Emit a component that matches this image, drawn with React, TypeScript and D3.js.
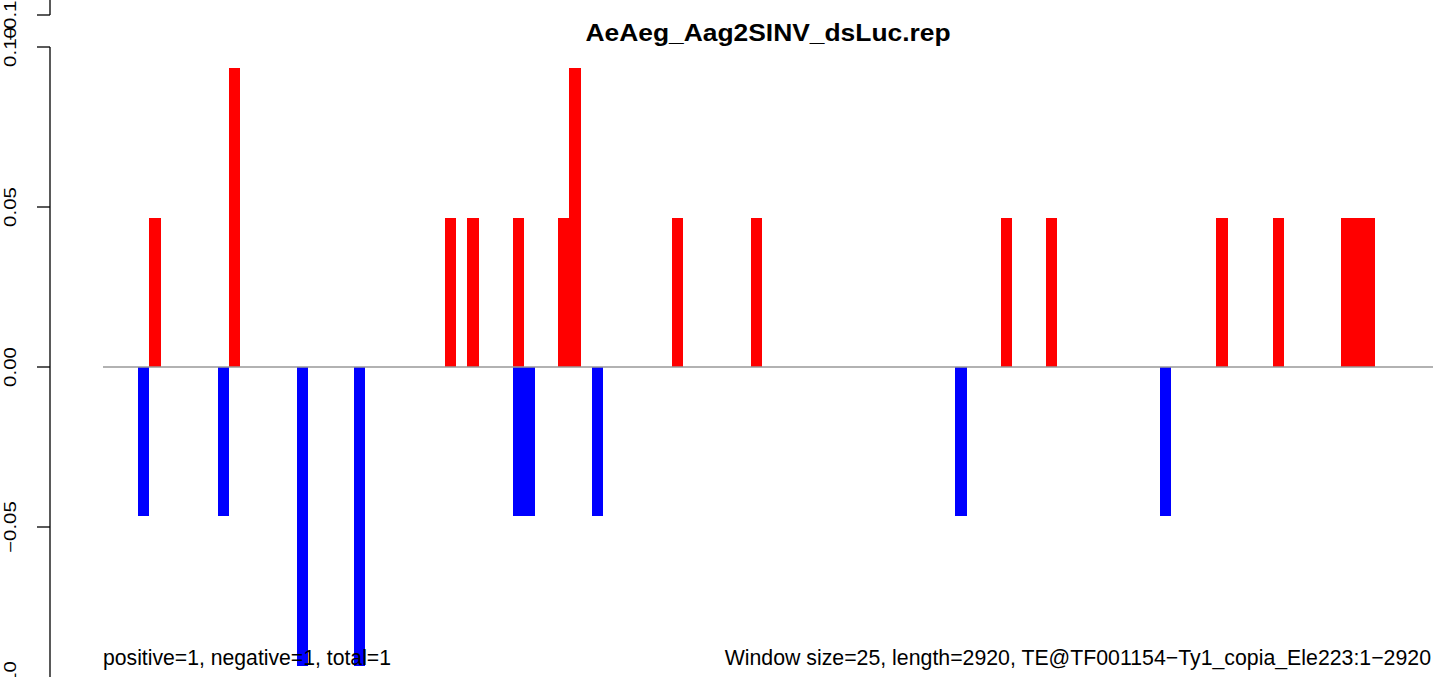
import React from "react";
import * as d3 from "d3";

const WIDTH = 1439;
const HEIGHT = 677;

const TITLE = "AeAeg_Aag2SINV_dsLuc.rep";
const LEFT_NOTE = "positive=1, negative=1, total=1";
const RIGHT_NOTE = "Window size=25, length=2920, TE@TF001154\u2212Ty1_copia_Ele223:1\u22122920";

const TE_LENGTH = 2920;
const WINDOW = 25;

// window index (start = index * WINDOW) for sense (positive) reads
const posWindows = [4, 11, 30, 32, 36, 40, 41, 50, 57, 79, 83, 98, 103, 109, 110, 111];
const posValues = [0.0467, 0.0934, 0.0467, 0.0467, 0.0467, 0.0467, 0.0934, 0.0467, 0.0467, 0.0467, 0.0467, 0.0467, 0.0467, 0.0467, 0.0467, 0.0467];

// antisense (negative) reads
const negWindows = [3, 10, 17, 22, 36, 37, 43, 75, 93];
const negValues = [-0.0467, -0.0467, -0.0934, -0.0934, -0.0467, -0.0467, -0.0467, -0.0467, -0.0467];

const yTicks = [-0.1, -0.05, 0, 0.05, 0.1];
const yTickLabels = ["\u22120.10", "\u22120.05", "0.00", "0.05", "0.10"];

const FONT = "'Liberation Sans', Arial, Helvetica, sans-serif";

export default function App() {
  const plotLeft = 103;
  const plotRight = 1433;
  const axisX = 50;

  const x = d3.scaleLinear().domain([0, TE_LENGTH]).range([104, 104 + (TE_LENGTH / WINDOW) * 11.35]);
  const y = d3.scaleLinear().domain([-0.1, 0.1]).range([687, 47]);
  // previous panel (stacked above) fragment of its axis
  const yPrev = d3.scaleLinear().domain([-0.1, 0.1]).range([687 - 672, 47 - 672]);

  const bw = x(WINDOW) - x(0);

  const pos = posWindows.map((w, i) => ({ w, v: posValues[i] }));
  const neg = negWindows.map((w, i) => ({ w, v: negValues[i] }));

  return (
    <svg
      width={WIDTH}
      height={HEIGHT}
      style={{ position: "absolute", left: 0, top: 0, background: "#fff" }}
      fontFamily={FONT}
    >
      <rect x={0} y={0} width={WIDTH} height={HEIGHT} fill="#fff" />
      {/* bars */}
      <g shapeRendering="crispEdges">
        {pos.map((d, i) => (
          <rect key={"p" + i} x={x(d.w * WINDOW)} width={bw} y={y(d.v)} height={y(0) - y(d.v)} fill="#ff0000" />
        ))}
        {neg.map((d, i) => (
          <rect key={"n" + i} x={x(d.w * WINDOW)} width={bw} y={y(0)} height={y(d.v) - y(0)} fill="#0000ff" />
        ))}
      </g>
      {/* zero line */}
      <line x1={plotLeft} x2={plotRight} y1={y(0)} y2={y(0)} stroke="#999999" strokeWidth={1.5} />

      {/* y axis */}
      <g stroke="#000" strokeWidth={1.3}>
        <line x1={axisX} x2={axisX} y1={y(0.1)} y2={y(-0.1)} />
        {yTicks.map((t) => (
          <line key={"t" + t} x1={axisX - 13} x2={axisX} y1={y(t)} y2={y(t)} />
        ))}
        <line x1={axisX} x2={axisX} y1={yPrev(-0.1)} y2={yPrev(0.1)} />
        {yTicks.map((t) => (
          <line key={"pt" + t} x1={axisX - 13} x2={axisX} y1={yPrev(t)} y2={yPrev(t)} />
        ))}
      </g>
      <g fontSize={16} fill="#000" textAnchor="middle">
        {yTicks.map((t, i) => (
          <text key={"l" + t} transform={`translate(16,${y(t)}) rotate(-90) scale(1.28,1)`}>
            {yTickLabels[i]}
          </text>
        ))}
        {yTicks.map((t, i) => (
          <text key={"pl" + t} transform={`translate(16,${yPrev(t)}) rotate(-90) scale(1.28,1)`}>
            {yTickLabels[i]}
          </text>
        ))}
      </g>

      {/* title */}
      <text
        transform={`translate(${(plotLeft + plotRight) / 2},41) scale(1.1,1)`}
        textAnchor="middle"
        fontWeight="bold"
        fontSize={24}
        fill="#000"
      >
        {TITLE}
      </text>

      {/* notes */}
      <text x={plotLeft} y={665} fontSize={21.2} fill="#000">
        {LEFT_NOTE}
      </text>
      <text x={1431} y={665} fontSize={21.3} textAnchor="end" fill="#000">
        {RIGHT_NOTE}
      </text>
    </svg>
  );
}
